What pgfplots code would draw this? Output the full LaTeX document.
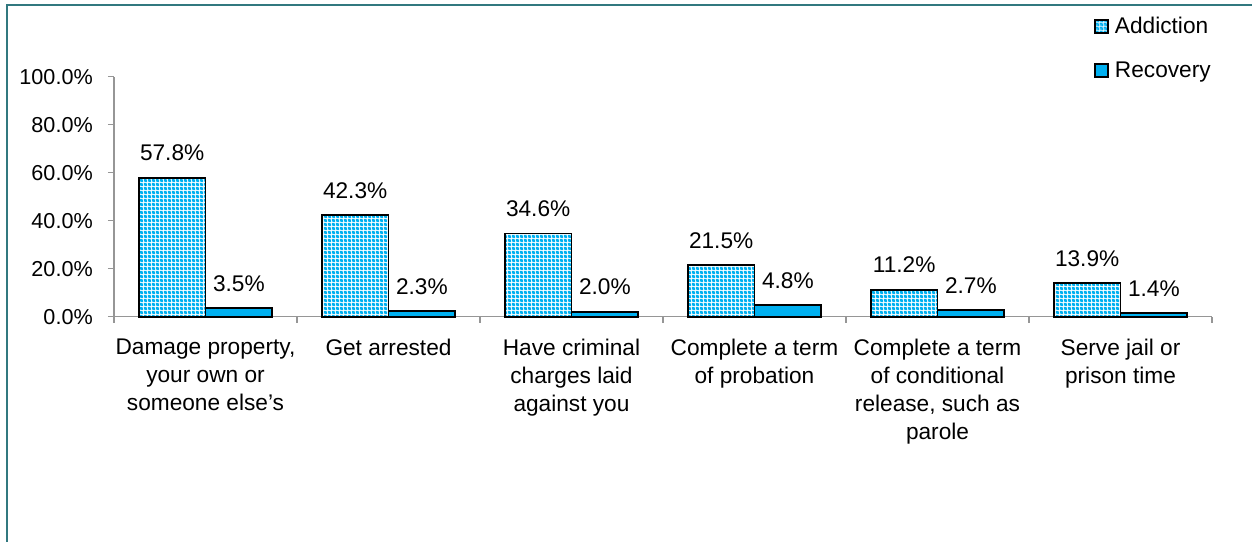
\documentclass[border=0pt]{standalone}
\usepackage{fontspec}
\setmainfont{Liberation Sans}
\usepackage{pgfplots}
\pgfplotsset{compat=1.18}
\usetikzlibrary{patterns}
\definecolor{barblue}{HTML}{00B0F0}
\definecolor{framecol}{HTML}{31787F}
\definecolor{axgray}{HTML}{969696}
\pgfdeclarepatternformonly{finecheck}{\pgfqpoint{0pt}{0pt}}{\pgfqpoint{3pt}{3pt}}{\pgfqpoint{3pt}{3pt}}{%
 \pgfseteorule
 \pgfpathrectangle{\pgfqpoint{0pt}{0pt}}{\pgfqpoint{3pt}{3pt}}%
 \pgfpathrectangle{\pgfqpoint{0.375pt}{0.375pt}}{\pgfqpoint{0.75pt}{0.75pt}}%
 \pgfpathrectangle{\pgfqpoint{1.875pt}{1.875pt}}{\pgfqpoint{0.75pt}{0.75pt}}%
 \pgfusepath{fill}}
\newcommand{\tickfont}{\fontsize{16.2}{21}\selectfont}
\newcommand{\catfont}{\fontsize{17}{21}\selectfont}
\newcommand{\datafont}{\fontsize{17}{21}\selectfont}
\begin{document}
\begin{tikzpicture}
\useasboundingbox (0,0) rectangle (939pt,406.5pt);
\draw[framecol, line width=1.5pt] (5pt,-10pt) -- (5pt,402.6pt) -- (960pt,402.6pt);
\begin{axis}[
  at={(85.5pt,169pt)}, anchor=south west,
  scale only axis, width=823.5pt, height=180pt,
  ybar=0pt, bar width=50pt,
  xmin=-0.5, xmax=5.5, ymin=0, ymax=100,
  axis lines*=left,
  axis line style={axgray, line width=1pt},
  tick style={axgray, line width=1pt},
  tick align=outside, major tick length=4.5pt,
  xtick={-0.5,0.5,1.5,2.5,3.5,4.5,5.5},
  x tick label as interval,
  xticklabels={{Damage property,\\your own or\\someone else’s},{Get arrested},{Have criminal\\charges laid\\against you},{Complete a term\\of probation},{Complete a term\\of conditional\\release, such as\\parole},{Serve jail or\\prison time}},
  xticklabel style={align=center, font=\catfont, inner sep=0pt, yshift=-12pt, text=black},
  ytick={0,20,40,60,80,100},
  yticklabels={0.0\%,20.0\%,40.0\%,60.0\%,80.0\%,100.0\%},
  yticklabel style={font=\tickfont, inner sep=0pt, xshift=-11.25pt, text=black},
  /pgf/number format/assume math mode=true,
  nodes near coords={\pgfmathprintnumber[fixed,fixed zerofill,precision=1]{\pgfplotspointmeta}\%},
  every node near coord/.append style={font=\datafont, inner sep=0pt, anchor=base, yshift=12.75pt, text=black},
  legend image code/.code={\draw[#1] (0pt,-4.875pt) rectangle (9.75pt,4.875pt);},
  legend style={at={(0.8925,1.249)}, anchor=north west, draw=none, fill=none,
    font=\datafont, inner sep=0pt, row sep=19.5pt, nodes={inner sep=0pt},
    /tikz/every odd column/.append style={column sep=4.5pt}},
  legend cell align=left,
  clip=false,
]
\addplot[draw=black, line width=1.3pt,
  preaction={fill=white},
  pattern=finecheck, pattern color=barblue]
  coordinates {(0,57.8) (1,42.3) (2,34.6) (3,21.5) (4,11.2) (5,13.9)};
\addplot[fill=barblue, draw=black, line width=1.3pt]
  coordinates {(0,3.5) (1,2.3) (2,2.0) (3,4.8) (4,2.7) (5,1.4)};
\legend{Addiction, Recovery}
\end{axis}
\end{tikzpicture}
\end{document}
